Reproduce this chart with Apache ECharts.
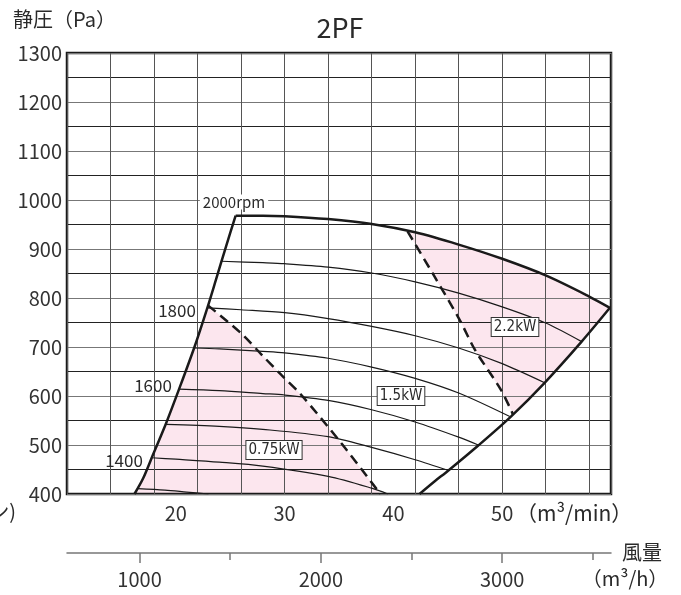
<!DOCTYPE html>
<html>
<head>
<meta charset="utf-8">
<script src="https://cdn.jsdelivr.net/npm/echarts@6/dist/echarts.min.js"></script>
<style>
  html, body { margin: 0; padding: 0; background: #fff; }
  #chart { width: 681px; height: 595px; }
</style>
</head>
<body>
<div id="chart"></div>
<script>
// flow in m3/min (x), static pressure in Pa (y)
var flowLabels = [20, 30, 40, 50];
var hourMajor = [1000, 2000, 3000];
var hourMinor = [1500, 2500, 3500];

var leftLimit = [[16.2, 400], [17.0, 432], [17.9, 480], [19.1, 544], [20.3, 614], [21.7, 699], [22.9, 780], [23.7, 838], [24.6, 904], [25.5, 968]];
var rightLimit = [[42.4, 400], [43.8, 426], [45.0, 447], [47.8, 499], [50.8, 558], [53.9, 627], [57.3, 711], [59.9, 780]];
var rpm2000 = [[25.5, 968], [28, 968], [30, 967], [34, 961], [38, 951], [42, 934], [46, 909], [50, 880], [54, 846], [58, 803], [59.9, 780]];
var rpm1900 = [[24.2, 875], [28, 872], [30, 870], [34, 863], [38, 851], [42, 833], [46, 810], [50, 782], [54, 749], [57.3, 711]];
var rpm1800 = [[22.9, 780], [26, 776], [30, 770], [34, 758], [38, 742], [42, 723], [46, 698], [50, 666], [53.9, 627]];
var rpm1700 = [[21.7, 698], [24, 696], [28, 691], [30, 688], [34, 677], [38, 659], [42, 636], [46, 606], [50.7, 558]];
var rpm1600 = [[20.3, 614], [24, 611], [28, 605], [30, 602], [34, 591], [38, 572], [42, 547], [46, 516], [47.8, 500]];
var rpm1500 = [[19.1, 542], [24, 538], [28, 532], [34, 517], [38, 495], [42, 470], [45.1, 448]];
var rpm1400 = [[17.8, 474], [20, 471], [24, 465], [28, 457], [34, 436], [38, 412], [39.5, 400]];
var rpm1300 = [[16.5, 411], [19, 408], [21, 404], [23, 400]];
var dash075 = [[22.95, 785], [26.0, 728], [27.9, 684], [29.7, 643], [31.5, 603], [35.2, 504], [38.8, 400]];
var dash22 = [[41.3, 936], [43.8, 843], [46.1, 755], [47.5, 694], [49.9, 612], [51.0, 562]];

var ink = '#1a1a1a';
var pink = '#fce6ee';
var font = "'Noto Sans CJK JP', 'Noto Sans', sans-serif";
var narrow = "'Liberation Sans Narrow', 'DejaVu Sans Condensed', sans-serif";

// pink zones built from the curves above
var fill075 = leftLimit.filter(function(p) { return p[1] <= 780; }).concat(dash075);
var fill22 = dash22
  .concat(rightLimit.filter(function(p) { return p[0] > 51.0; }))
  .concat(rpm2000.filter(function(p) { return p[0] > 41.3 && p[0] < 59.9; }).reverse());

function curve(data, width, dashed) {
  return {
    type: 'line', data: data, showSymbol: false, symbol: 'none', smooth: 0.3, silent: true,
    lineStyle: { color: ink, width: width, type: dashed ? [10, 6] : 'solid' }
  };
}

function zone(poly) {
  return {
    type: 'custom', z: -1, silent: true, data: poly, encode: { x: 0, y: 1 },
    renderItem: function(params, api) {
      if (params.dataIndex !== 0) return null;
      var pts = poly.map(function(p) { return api.coord(p); });
      return { type: 'polygon', shape: { points: pts }, style: { fill: pink } };
    }
  };
}

function label(text, x, y, opts) {
  opts = opts || {};
  var st = {
    text: text, x: x, y: y, fill: '#2a2a2a',
    font: (opts.size || 16) + 'px ' + (opts.family || font),
    align: opts.align || 'center', verticalAlign: 'middle',
    textAlign: opts.align || 'center', textVerticalAlign: 'middle'
  };
  if (opts.box) {
    st.backgroundColor = '#fff';
    st.borderColor = '#333';
    st.borderWidth = 1;
    st.padding = [2, 2, 1, 2];
  }
  if (opts.bg) {
    st.backgroundColor = '#fff';
    st.padding = [0, 3];
  }
  return { type: 'text', z: 100, silent: true, style: st };
}

var chart = echarts.init(document.getElementById('chart'), null, { renderer: 'canvas' });
chart.setOption({
  animation: false,
  backgroundColor: '#fff',
  textStyle: { fontFamily: font },
  grid: [
    { left: 67, right: 70, top: 53, bottom: 101, show: true, borderColor: ink, borderWidth: 2.5, backgroundColor: 'transparent' },
    { left: 67, right: 70, top: 552, height: 1 }
  ],
  xAxis: [
    {
      gridIndex: 0, type: 'value', min: 10, max: 60, interval: 4,
      axisLine: { show: false }, axisTick: { show: false }, axisLabel: { show: false },
      splitLine: { show: true, lineStyle: { color: '#555', width: 1 } }
    },
    {
      gridIndex: 0, type: 'value', min: 10, max: 60, interval: 10, position: 'bottom',
      axisLine: { show: false }, axisTick: { show: false }, splitLine: { show: false },
      axisLabel: {
        margin: 9, fontSize: 20, color: '#333', fontFamily: font,
        formatter: function(v) { return flowLabels.indexOf(v) >= 0 ? String(v) : ''; }
      }
    },
    {
      gridIndex: 1, type: 'value', min: 600, max: 3600, position: 'bottom',
      axisLine: { show: true, lineStyle: { color: '#777', width: 1.5 } },
      axisTick: { show: true, customValues: hourMajor, length: 10, lineStyle: { color: '#777', width: 1.5 } },
      axisLabel: {
        customValues: hourMajor, margin: 16, fontSize: 20, color: '#333', fontFamily: font,
        formatter: function(v) { return String(v); }
      },
      splitLine: { show: false }
    },
    {
      gridIndex: 1, type: 'value', min: 600, max: 3600, position: 'bottom',
      axisLine: { show: false },
      axisTick: { show: true, customValues: hourMinor, length: 7, lineStyle: { color: '#777', width: 1.5 } },
      axisLabel: { show: false }, splitLine: { show: false }
    }
  ],
  yAxis: [
    {
      gridIndex: 0, type: 'value', min: 400, max: 1300, interval: 50,
      axisLine: { show: false }, axisTick: { show: false },
      axisLabel: {
        margin: 5, fontSize: 20, color: '#333', fontFamily: font,
        formatter: function(v) { return v % 100 === 0 ? String(v) : ''; }
      },
      splitLine: { show: true, lineStyle: { color: ['#777', '#222'], width: 1.2 } }
    },
    { gridIndex: 1, type: 'value', min: 0, max: 1, show: false }
  ],
  series: [
    zone(fill075),
    zone(fill22),
    curve(rpm1900, 1.2), curve(rpm1800, 1.2), curve(rpm1700, 1.2),
    curve(rpm1600, 1.2), curve(rpm1500, 1.2), curve(rpm1400, 1.2), curve(rpm1300, 1.2),
    curve(leftLimit, 2.5), curve(rightLimit, 2.5), curve(rpm2000, 2.5),
    curve(dash075, 2.5, true), curve(dash22, 2.5, true)
  ],
  graphic: [
    label('静圧（Pa）', 13, 19, { size: 20, align: 'left' }),
    label('2PF', 340, 28, { size: 27 }),
    label('2000rpm', 234, 202, { size: 15, bg: true }),
    label('1800', 177, 311, { size: 17 }),
    label('1600', 153, 386, { size: 17 }),
    label('1400', 124, 461, { size: 17 }),
    label('0.75kW', 274, 450, { size: 15, family: narrow, box: true }),
    label('1.5kW', 401, 396, { size: 15, family: narrow, box: true }),
    label('2.2kW', 515, 327, { size: 15, family: narrow, box: true }),
    label('（m³/min）', 516, 513, { size: 21, align: 'left' }),
    label('風量', 642, 552, { size: 20 }),
    label('（m³/h）', 625, 578, { size: 20 }),
    label('ン)', 16, 511, { size: 20, align: 'right' })
  ]
});
</script>
</body>
</html>
